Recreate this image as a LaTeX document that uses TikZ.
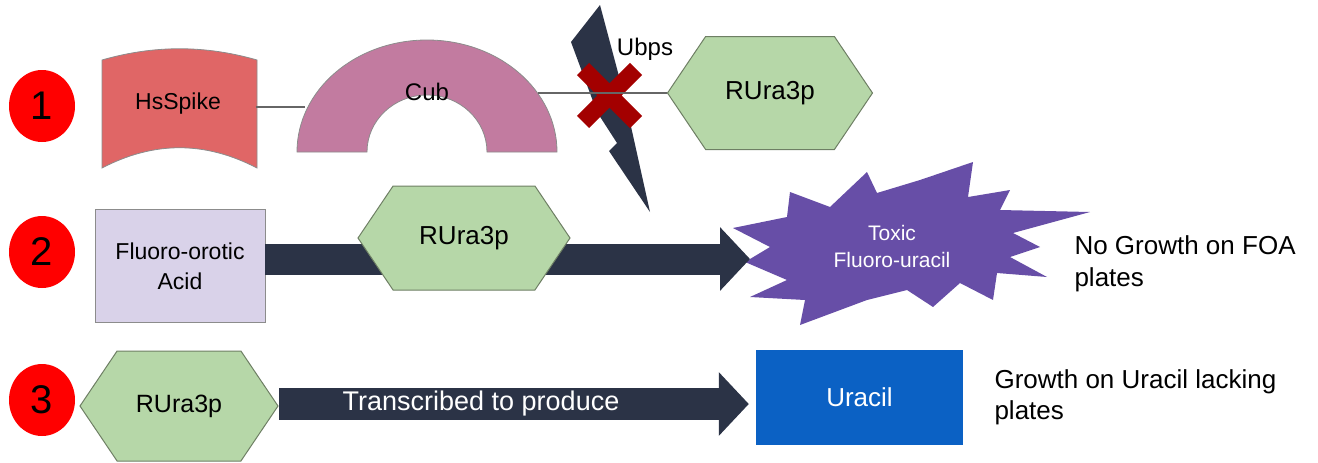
\documentclass[tikz,border=0pt]{standalone}
\usepackage{fontspec}
\setmainfont{Liberation Sans}
\usetikzlibrary{shapes.geometric,shapes.symbols,arrows.meta}
\definecolor{dotred}{HTML}{FF0000}
\definecolor{spikered}{HTML}{E06666}
\definecolor{cubpink}{HTML}{C27BA0}
\definecolor{hexgreen}{HTML}{B6D7A8}
\definecolor{hexedge}{HTML}{6E7F64}
\definecolor{acidlav}{HTML}{D9D2E9}
\definecolor{navy}{HTML}{2B3346}
\definecolor{toxpurple}{HTML}{674EA7}
\definecolor{uracilblue}{HTML}{0B61C4}
\definecolor{crossred}{HTML}{A30000}
\newcommand{\fsz}[2]{\fontsize{#1}{#2}\selectfont}
\begin{document}
\begin{tikzpicture}[x=1pt,y=-1pt,
    numdot/.style={ellipse,fill=dotred,minimum width=66pt,minimum height=72pt,inner sep=0pt,font=\fsz{40}{44}},
    hexa/.style={signal,signal to=east and west,signal pointer angle=112,draw=hexedge,fill=hexgreen,line width=1pt,inner sep=0pt,font=\fsz{26}{30}},
    link/.style={draw=black!60,line width=1.2pt},
    bigarrow/.style={navy,line width=31pt,-{Triangle[length=30pt,width=62pt]}},
    sidetext/.style={anchor=west,align=left,font=\fsz{26}{32}}]
\useasboundingbox (0,0) rectangle (1318,463);

\node[numdot] (n1) at (42,106) {1};
\node[numdot] (n2) at (42,252) {2};
\node[numdot] (n3) at (42,400) {3};

\filldraw[fill=spikered,draw=black!45,line width=0.8pt] (102,60) -- (102,168) .. controls (154,141) and (205,141) .. (257,168) -- (257,60) .. controls (205,45) and (154,45) .. (102,60) -- cycle;
\node[minimum width=155pt,minimum height=108pt,inner sep=0pt,font=\fsz{23}{26}] (hsspike) at (178,104) {HsSpike};

\filldraw[fill=cubpink,draw=black!45,line width=0.8pt] (297,152) arc[start angle=180,end angle=0,x radius=130pt,y radius=112pt] -- (487,152) arc[start angle=0,end angle=180,x radius=60pt,y radius=57pt] -- cycle;
\node[font=\fsz{24}{28}] (cub) at (427,92) {Cub};
\coordinate (cubL) at (305,107);
\coordinate (cubR) at (538,93);
\draw[link] (hsspike.east |- cubL) -- (cubL);

\node[hexa,minimum width=205pt,minimum height=113pt] (hex1) at (770,93) {RUra3p};
\fill[navy] (600,5) -- (620,80) -- (612,100) -- (630,122) -- (650,212) -- (609,151) -- (617,143) -- (597,112) -- (571,42) -- cycle;
\draw[crossred,line width=17pt] (583,69) -- (636,122) (636,69) -- (583,122);
\draw[link] (cubR) -- (hex1.west);
\node[font=\fsz{24}{28}] (ubps) at (645,49) {Ubps};

\node[rectangle,draw=black!45,fill=acidlav,line width=0.8pt,minimum width=170pt,minimum height=113pt,align=center,font=\fsz{23}{30}] (acid) at (180,266) {Fluoro-orotic\\Acid};
\fill[toxpurple] (790,192) -- (830,207) -- (867,172) -- (877,193) -- (920,180) -- (973,162) -- (968,197) -- (1010,190) -- (1000,210) -- (1090,212) -- (1013,233) -- (1040,247) -- (1010,257) -- (1047,277) -- (997,273) -- (993,300) -- (960,283) -- (933,307) -- (907,290) -- (867,300) -- (800,325) -- (805,300) -- (750,297) -- (787,280) -- (745,262) -- (770,247) -- (733,228) -- (787,217) -- cycle;
\node[align=center,text=white,font=\fsz{21}{27}] (toxic) at (892,246) {Toxic\\Fluoro-uracil};
\coordinate (toxtip) at (750,259);
\draw[bigarrow] (acid.east |- toxtip) -- (toxtip);
\node[hexa,minimum width=212pt,minimum height=104pt] (hex2) at (464,238) {RUra3p};
\node[sidetext] (nogrowth) at (1071,264) {No Growth on FOA\\plates};

\node[rectangle,fill=uracilblue,minimum width=207pt,minimum height=95pt,text=white,font=\fsz{26}{30}] (uracil) at (859.5,397.5) {Uracil};
\draw[bigarrow,line width=32pt] (279,404) -- ([xshift=-7pt]uracil.west |- 0,404) node[pos=0.43,text=white,font=\fsz{27}{30}] {Transcribed to produce};
\node[hexa,minimum width=198pt,minimum height=110pt,font=\fsz{25}{30}] (hex3) at (179,406) {RUra3p};
\node[sidetext,font=\fsz{26}{31}] (growth) at (991,397) {Growth on Uracil lacking\\plates};
\end{tikzpicture}
\end{document}
